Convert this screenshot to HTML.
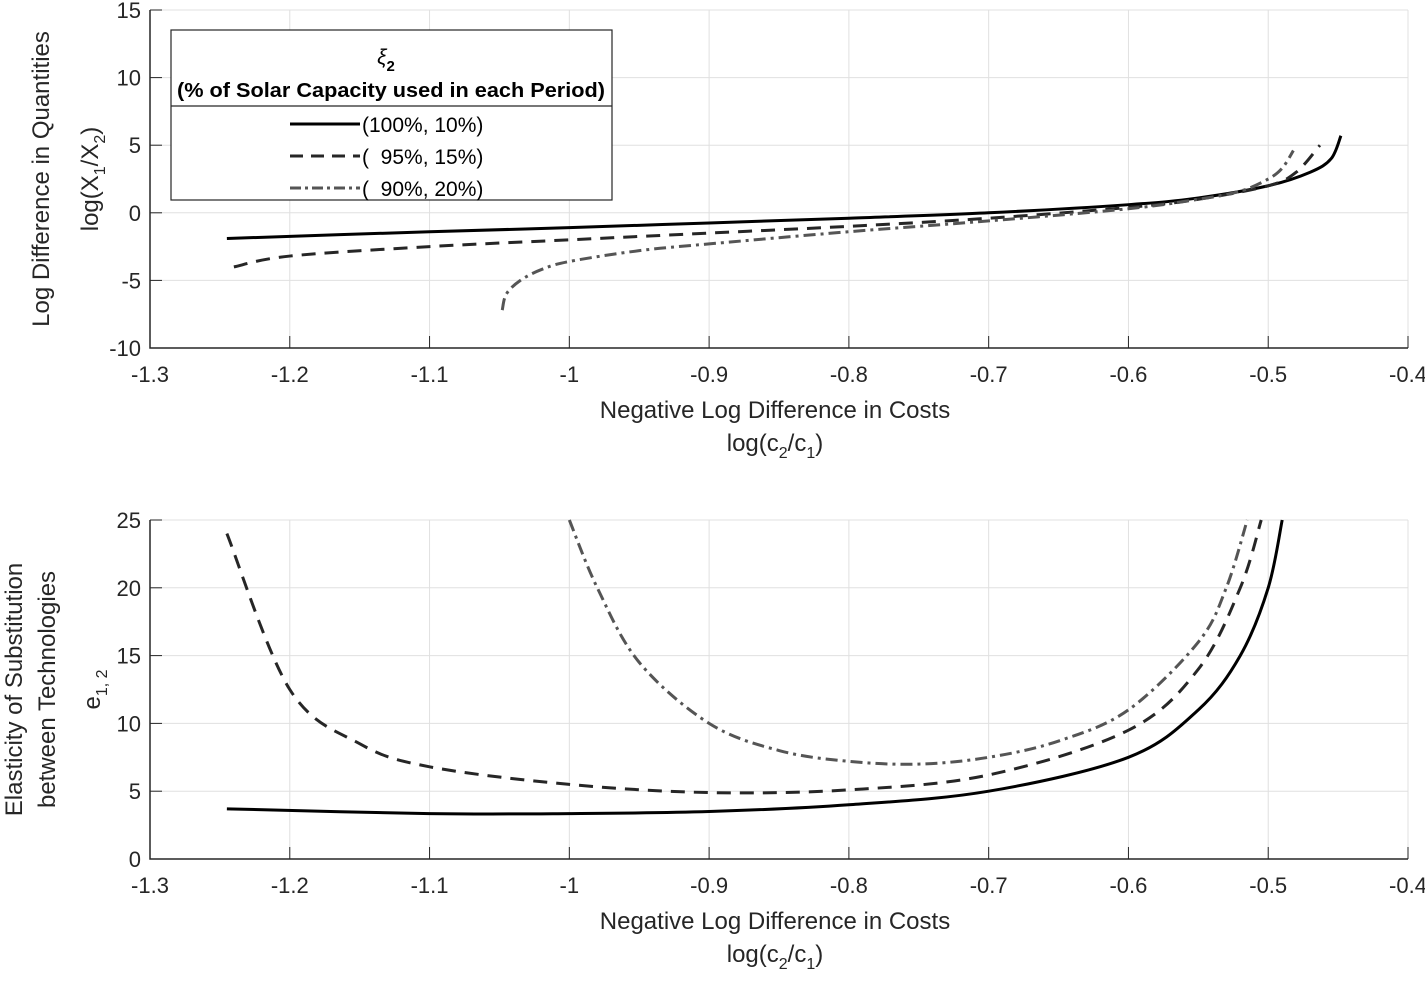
<!DOCTYPE html>
<html><head><meta charset="utf-8"><style>
body{margin:0;background:#fff}
svg{font-family:"Liberation Sans",Arial,sans-serif}
</style></head><body>
<svg width="1425" height="978" viewBox="0 0 1425 978">
<g id="g"></g>
</svg>
<script>
const xTicks=[-1.3,-1.2,-1.1,-1,-0.9,-0.8,-0.7,-0.6,-0.5,-0.4];
const topYTicks=[-10,-5,0,5,10,15];
const botYTicks=[0,5,10,15,20,25];
const topSolidX=[-1.245,-1.1,-1.0,-0.9,-0.8,-0.7,-0.6,-0.55,-0.5,-0.47,-0.455,-0.448];
const topSolidY=[-1.9,-1.4,-1.1,-0.75,-0.4,0.0,0.6,1.1,2.0,3.0,4.0,5.7];
const topDashX=[-1.24,-1.2,-1.1,-1.0,-0.9,-0.8,-0.7,-0.6,-0.55,-0.5,-0.48,-0.463];
const topDashY=[-4.0,-3.2,-2.5,-2.0,-1.5,-1.0,-0.4,0.4,1.0,2.0,3.0,5.0];
const topDdX=[-1.048,-1.045,-1.035,-1.02,-1.0,-0.95,-0.9,-0.8,-0.7,-0.6,-0.55,-0.52,-0.5,-0.49,-0.482];
const topDdY=[-7.2,-6.0,-5.0,-4.2,-3.6,-2.8,-2.3,-1.4,-0.6,0.3,1.0,1.6,2.5,3.3,4.6];
const botSolidX=[-1.245,-1.1,-1.0,-0.9,-0.8,-0.7,-0.6,-0.55,-0.52,-0.5,-0.49];
const botSolidY=[3.7,3.35,3.35,3.5,4.0,5.0,7.5,11,15,20,25];
const botDashX=[-1.245,-1.2,-1.15,-1.1,-1.0,-0.9,-0.8,-0.7,-0.6,-0.55,-0.52,-0.505];
const botDashY=[24,12.5,8.5,6.8,5.5,4.9,5.1,6.2,9.5,14,20,25];
const botDdX=[-1.0,-0.98,-0.95,-0.9,-0.85,-0.8,-0.75,-0.7,-0.65,-0.6,-0.55,-0.53,-0.515];
const botDdY=[25,20,14.5,10,8,7.2,7.0,7.5,8.7,11,16,20,25];

const NS="http://www.w3.org/2000/svg";
const g=document.getElementById('g');
function el(t,a,txt){const e=document.createElementNS(NS,t);for(const k in a)e.setAttribute(k,a[k]);if(txt!==undefined)e.textContent=txt;g.appendChild(e);return e;}
const X0=150,X1=1408;
const sx=v=>X0+(v+1.3)/0.9*(X1-X0);
function smooth(pts){let d=`M${pts[0][0]},${pts[0][1]}`;for(let i=0;i<pts.length-1;i++){const p0=pts[Math.max(0,i-1)],p1=pts[i],p2=pts[i+1],p3=pts[Math.min(pts.length-1,i+2)];const c1=[p1[0]+(p2[0]-p0[0])/6,p1[1]+(p2[1]-p0[1])/6],c2=[p2[0]-(p3[0]-p1[0])/6,p2[1]-(p3[1]-p1[1])/6];d+=` C${c1[0]},${c1[1]} ${c2[0]},${c2[1]} ${p2[0]},${p2[1]}`;}return d;}
function axes(name,yTop,yBot,yMin,yMax,yTicks,series,yl){
  const sy=v=>yBot-(v-yMin)/(yMax-yMin)*(yBot-yTop);
  xTicks.forEach(t=>{const l=el('line',{x1:sx(t),x2:sx(t),y1:yTop,y2:yBot,stroke:'#e0e0e0','stroke-width':1});});
  yTicks.forEach(t=>{const l=el('line',{x1:X0,x2:X1,y1:sy(t),y2:sy(t),stroke:'#e0e0e0','stroke-width':1});});
  const ax=el('path',{d:`M${X0},${yTop} V${yBot} H${X1}`,fill:'none',stroke:'#262626','stroke-width':1.5});
  
  xTicks.forEach(t=>{el('line',{x1:sx(t),x2:sx(t),y1:yBot,y2:yBot-12,stroke:'#262626'});const tx=el('text',{x:sx(t),y:yBot+34,'text-anchor':'middle','font-size':22,fill:'#262626'},String(t));});
  yTicks.forEach(t=>{el('line',{x1:X0,x2:X0+12,y1:sy(t),y2:sy(t),stroke:'#262626'});const tx=el('text',{x:X0-9,y:sy(t)+8,'text-anchor':'end','font-size':22,fill:'#262626'},String(t));});
  series.forEach(s=>{const pts=s.x.map((v,i)=>[sx(v),sy(s.y[i])]);const p=el('path',{d:smooth(pts),fill:'none',stroke:s.c,'stroke-width':3,'stroke-dasharray':s.d});});
  const t1=el('text',{x:775,y:yBot+70,'text-anchor':'middle','font-size':24,fill:'#262626'},'Negative Log Difference in Costs');
  const t2=el('text',{x:775,y:yBot+103,'text-anchor':'middle','font-size':24,fill:'#262626'});t2.innerHTML='log(c<tspan font-size="16" dy="7">2</tspan><tspan dy="-7">/c</tspan><tspan font-size="16" dy="7">1</tspan><tspan dy="-7">)</tspan>';
  const cy=(yTop+yBot)/2;
  yl.forEach(([x,txt])=>{const t=el('text',{x:x,y:cy,'text-anchor':'middle','font-size':24,fill:'#262626',transform:`rotate(-90 ${x} ${cy})`});t.innerHTML=txt;});
}
const SD='',DA='14 9',DD='12 5 3 5';
axes('top-chart',10,348,-10,15,topYTicks,[
 {n:'line-100-10',x:topSolidX,y:topSolidY,c:'#000',d:SD},
 {n:'line-95-15',x:topDashX,y:topDashY,c:'#262626',d:DA},
 {n:'line-90-20',x:topDdX,y:topDdY,c:'#555',d:DD}],
 [[49,'Log Difference in Quantities'],[98,'log(X<tspan font-size="16" dy="7">1</tspan><tspan dy="-7">/X</tspan><tspan font-size="16" dy="7">2</tspan><tspan dy="-7">)</tspan>']]);
axes('bottom-chart',520,859,0,25,botYTicks,[
 {n:'line-100-10',x:botSolidX,y:botSolidY,c:'#000',d:SD},
 {n:'line-95-15',x:botDashX,y:botDashY,c:'#262626',d:DA},
 {n:'line-90-20',x:botDdX,y:botDdY,c:'#555',d:DD}],
 [[22,'Elasticity of Substitution'],[55,'between Technologies'],[100,'e<tspan font-size="16" dy="7">1, 2</tspan>']]);
// legend
const lg=el('rect',{x:171,y:30,width:441,height:170,fill:'#fff',stroke:'#262626','stroke-width':1.2});

el('line',{x1:171,x2:612,y1:106,y2:106,stroke:'#262626','stroke-width':1.2});
const lt=el('text',{x:386,y:64,'text-anchor':'middle','font-size':21,'font-style':'italic',fill:'#000'});lt.innerHTML='ξ<tspan font-size="15" font-weight="bold" font-style="normal" dy="7">2</tspan>';

const lt2=el('text',{x:391,y:97,'text-anchor':'middle','font-size':20,'font-weight':'bold',fill:'#000',textLength:428,lengthAdjust:'spacingAndGlyphs'},'(% of Solar Capacity used in each Period)');

[['(100%, 10%)','#000',SD],['(  95%, 15%)','#262626','13 8'],['(  90%, 20%)','#555','11 4 3 4']].forEach((r,i)=>{
 const y=124+i*32;
 const l=el('line',{x1:290,x2:360,y1:y,y2:y,stroke:r[1],'stroke-width':3,'stroke-dasharray':r[2]});
 
 const t=el('text',{x:362,y:y+8,'font-size':21,fill:'#000',style:'white-space:pre'},r[0]);
 
});
</script>
</body></html>
